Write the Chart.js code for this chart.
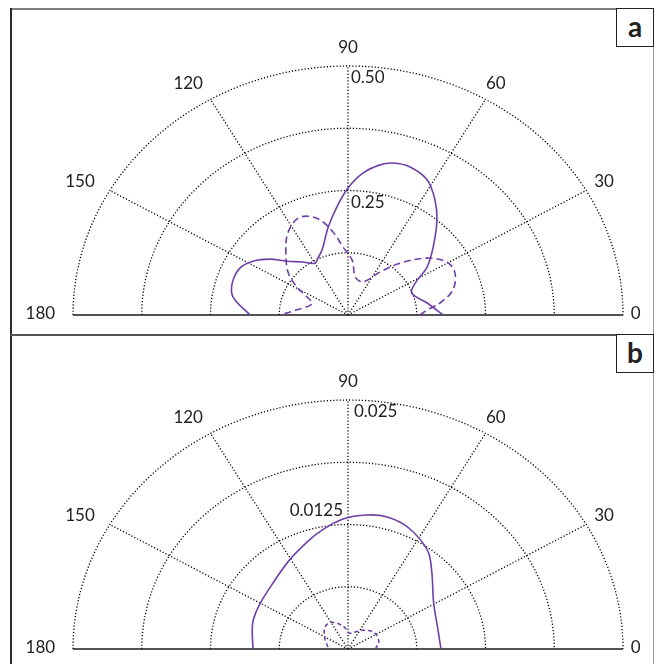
<!DOCTYPE html>
<html>
<head>
<meta charset="utf-8">
<script src="https://cdn.jsdelivr.net/npm/chart.js@4.4.0/dist/chart.umd.min.js"></script>
<style>
  html, body { margin: 0; padding: 0; background: #fff; }
  #page { position: relative; width: 660px; height: 664px; overflow: hidden; }
  canvas { position: absolute; left: 0; }
  #chartA { top: 0; }
  #chartB { top: 335px; }
  .ln { position: absolute; }
  .tag { position: absolute; box-sizing: border-box; border: 1.5px solid #222; background: #fff;
         font: bold 28px Lato, sans-serif; text-align: center; color: #222; }
</style>
</head>
<body>
<div id="page">
  <canvas id="chartA" width="660" height="335"></canvas>
  <canvas id="chartB" width="660" height="329"></canvas>
  <div class="ln" style="left:10px;top:8px;width:644px;height:2px;background:#808080"></div>
  <div class="ln" style="left:10px;top:8px;width:2px;height:656px;background:#2a2a2a"></div>
  <div class="ln" style="left:653px;top:8px;width:1px;height:656px;background:#999"></div>
  <div class="ln" style="left:10px;top:334px;width:644px;height:2px;background:#555"></div>
  <div class="tag" style="left:616px;top:8px;width:38px;height:39px;line-height:34px">a</div>
  <div class="tag" style="left:616px;top:334px;width:38px;height:39px;line-height:34px">b</div>
</div>
<script>
// === Axes ===
const angleLabels = [0, 30, 60, 90, 120, 150, 180];
const spokeAngles = [30, 60, 90, 120, 150];

// === Panel a ===
const ringsA = [0.125, 0.25, 0.375, 0.5];
const ringTicksA = [0.25, 0.5];
const ringTextA = ["0.25", "0.50"];

const solidAngA = [0, 9.5, 20.8, 27.7, 33.8, 41.5, 49.7, 55.6, 62, 69.2, 75, 79.1, 84.6, 90, 95.3, 101.7, 109.8, 115.4, 120, 128, 135.8, 141.7, 148, 154.4, 163.1, 170.2, 180];
const solidValA = [0.173, 0.146, 0.124, 0.138, 0.173, 0.207, 0.250, 0.280, 0.307, 0.318, 0.316, 0.307, 0.286, 0.255, 0.218, 0.179, 0.139, 0.127, 0.120, 0.135, 0.155, 0.181, 0.204, 0.218, 0.220, 0.212, 0.178];

const dashAngA = [0, 4, 8.2, 14.7, 23.4, 30.5, 38.4, 47.6, 56, 67.7, 80, 86, 93.8, 99.3, 105, 110.6, 115.7, 123.5, 130.8, 141.7, 149, 154, 161, 174, 180];
const dashValA = [0.131, 0.144, 0.169, 0.197, 0.212, 0.209, 0.184, 0.141, 0.104, 0.072, 0.077, 0.110, 0.137, 0.169, 0.198, 0.212, 0.214, 0.198, 0.173, 0.139, 0.108, 0.083, 0.069, 0.095, 0.124];

// === Panel b ===
const ringsB = [0.00625, 0.0125, 0.01875, 0.025];
const ringTicksB = [0.0125, 0.025];
const ringTextB = ["0.0125", "0.025"];

const solidAngB = [0, 13, 31, 46, 54, 66, 75, 83, 92, 101, 109, 121, 136, 151, 161, 168, 180];
const solidValB = [0.00845, 0.0084, 0.00908, 0.01095, 0.01228, 0.01338, 0.01373, 0.01355, 0.01305, 0.01218, 0.01138, 0.01038, 0.0095, 0.0092, 0.0091, 0.0089, 0.00863];

const dashAngB = [0, 15, 35, 55, 70, 86, 100, 120, 135, 155, 170, 180];
const dashValB = [0.0025, 0.0029, 0.0029, 0.0023, 0.0018, 0.0016, 0.0023, 0.0031, 0.0030, 0.0023, 0.0019, 0.0018];

const violet = "#7040a8";

// polaire -> x/y (les axes font l'étirement)
function toXY(angs, vals) {
  return angs.map((a, i) => {
    const t = a * Math.PI / 180;
    return { x: vals[i] * Math.cos(t), y: vals[i] * Math.sin(t) };
  });
}

// === Grille polaire + étiquettes ===
const polarGrid = {
  id: "polarGrid",
  beforeDatasetsDraw(chart, args, o) {
    const { ctx, scales: { x, y } } = chart;
    const cx = x.getPixelForValue(0), cy = y.getPixelForValue(0);
    const outer = o.rings[o.rings.length - 1];
    ctx.save();
    ctx.strokeStyle = "#000";
    ctx.lineWidth = 1.3;
    ctx.setLineDash([1.2, 2]);
    o.rings.forEach(r => {
      const rx = x.getPixelForValue(r) - cx;
      const ry = cy - y.getPixelForValue(r);
      ctx.beginPath();
      ctx.ellipse(cx, cy, rx, ry, 0, Math.PI, 2 * Math.PI);
      ctx.stroke();
    });
    spokeAngles.forEach(a => {
      const t = a * Math.PI / 180;
      ctx.beginPath();
      ctx.moveTo(cx, cy);
      ctx.lineTo(x.getPixelForValue(outer * Math.cos(t)), y.getPixelForValue(outer * Math.sin(t)));
      ctx.stroke();
    });
    ctx.setLineDash([]);
    ctx.strokeStyle = "#1a1a1a";
    ctx.lineWidth = 1.5;
    ctx.beginPath();
    ctx.moveTo(x.getPixelForValue(-outer), cy);
    ctx.lineTo(x.getPixelForValue(outer), cy);
    ctx.stroke();
    ctx.restore();
  },
  afterDatasetsDraw(chart, args, o) {
    const { ctx, scales: { x, y } } = chart;
    const cx = x.getPixelForValue(0), cy = y.getPixelForValue(0);
    const outer = o.rings[o.rings.length - 1];
    ctx.save();
    ctx.fillStyle = "#222";
    ctx.font = "17px Lato, sans-serif";
    ctx.textBaseline = "middle";
    ctx.textAlign = "center";
    angleLabels.forEach(a => {
      const t = a * Math.PI / 180;
      let lx = x.getPixelForValue(outer * 1.075 * Math.cos(t));
      let ly = y.getPixelForValue(outer * 1.075 * Math.sin(t));
      if (a === 0) lx -= 8;
      if (a > 90) lx -= 12;
      if (a === 0 || a === 180) ly = cy - 1;
      ctx.fillText(String(a), lx, ly);
    });
    o.ticks.forEach((v, i) => {
      const top = y.getPixelForValue(v);
      if (o.above && o.above[i]) {
        ctx.textAlign = "right";
        ctx.fillText(o.text[i], cx - 5, top - 14);
      } else {
        ctx.textAlign = "left";
        ctx.fillText(o.text[i], cx + o.dx, top + 12);
      }
    });
    ctx.restore();
  }
};

function makeChart(id, geo, rings, ticks, text, above, dx, series) {
  const R = rings[rings.length - 1];
  const W = geo.w, H = geo.h;
  return new Chart(document.getElementById(id), {
    type: "scatter",
    data: {
      datasets: series.map(s => ({
        data: toXY(s.ang, s.val),
        showLine: true,
        borderColor: violet,
        borderWidth: 1.6,
        borderDash: s.dash,
        pointRadius: 0,
        tension: 0.35,
        fill: false
      }))
    },
    options: {
      responsive: false,
      animation: false,
      layout: { padding: 0 },
      plugins: {
        legend: { display: false },
        tooltip: { enabled: false },
        polarGrid: { rings, ticks, text, above, dx }
      },
      scales: {
        x: { type: "linear", display: false, bounds: "data",
             min: -geo.cx / geo.rx * R, max: (W - geo.cx) / geo.rx * R },
        y: { type: "linear", display: false, bounds: "data",
             min: -(H - geo.cy) / geo.ry * R, max: geo.cy / geo.ry * R }
      }
    },
    plugins: [polarGrid]
  });
}

function build() {
  makeChart("chartA", { w: 660, h: 335, cx: 348, cy: 315, rx: 275, ry: 249 },
    ringsA, ringTicksA, ringTextA, [false, false], 3, [
      { ang: solidAngA, val: solidValA, dash: [] },
      { ang: dashAngA, val: dashValA, dash: [7, 4] }
    ]);
  makeChart("chartB", { w: 660, h: 329, cx: 348, cy: 314, rx: 275, ry: 249 },
    ringsB, ringTicksB, ringTextB, [true, false], 6, [
      { ang: solidAngB, val: solidValB, dash: [] },
      { ang: dashAngB, val: dashValB, dash: [4, 3] }
    ]);
}

if (document.fonts && document.fonts.load) {
  Promise.all([document.fonts.load("17px Lato"), document.fonts.load("bold 28px Lato")]).then(build, build);
} else {
  build();
}
</script>
</body>
</html>
